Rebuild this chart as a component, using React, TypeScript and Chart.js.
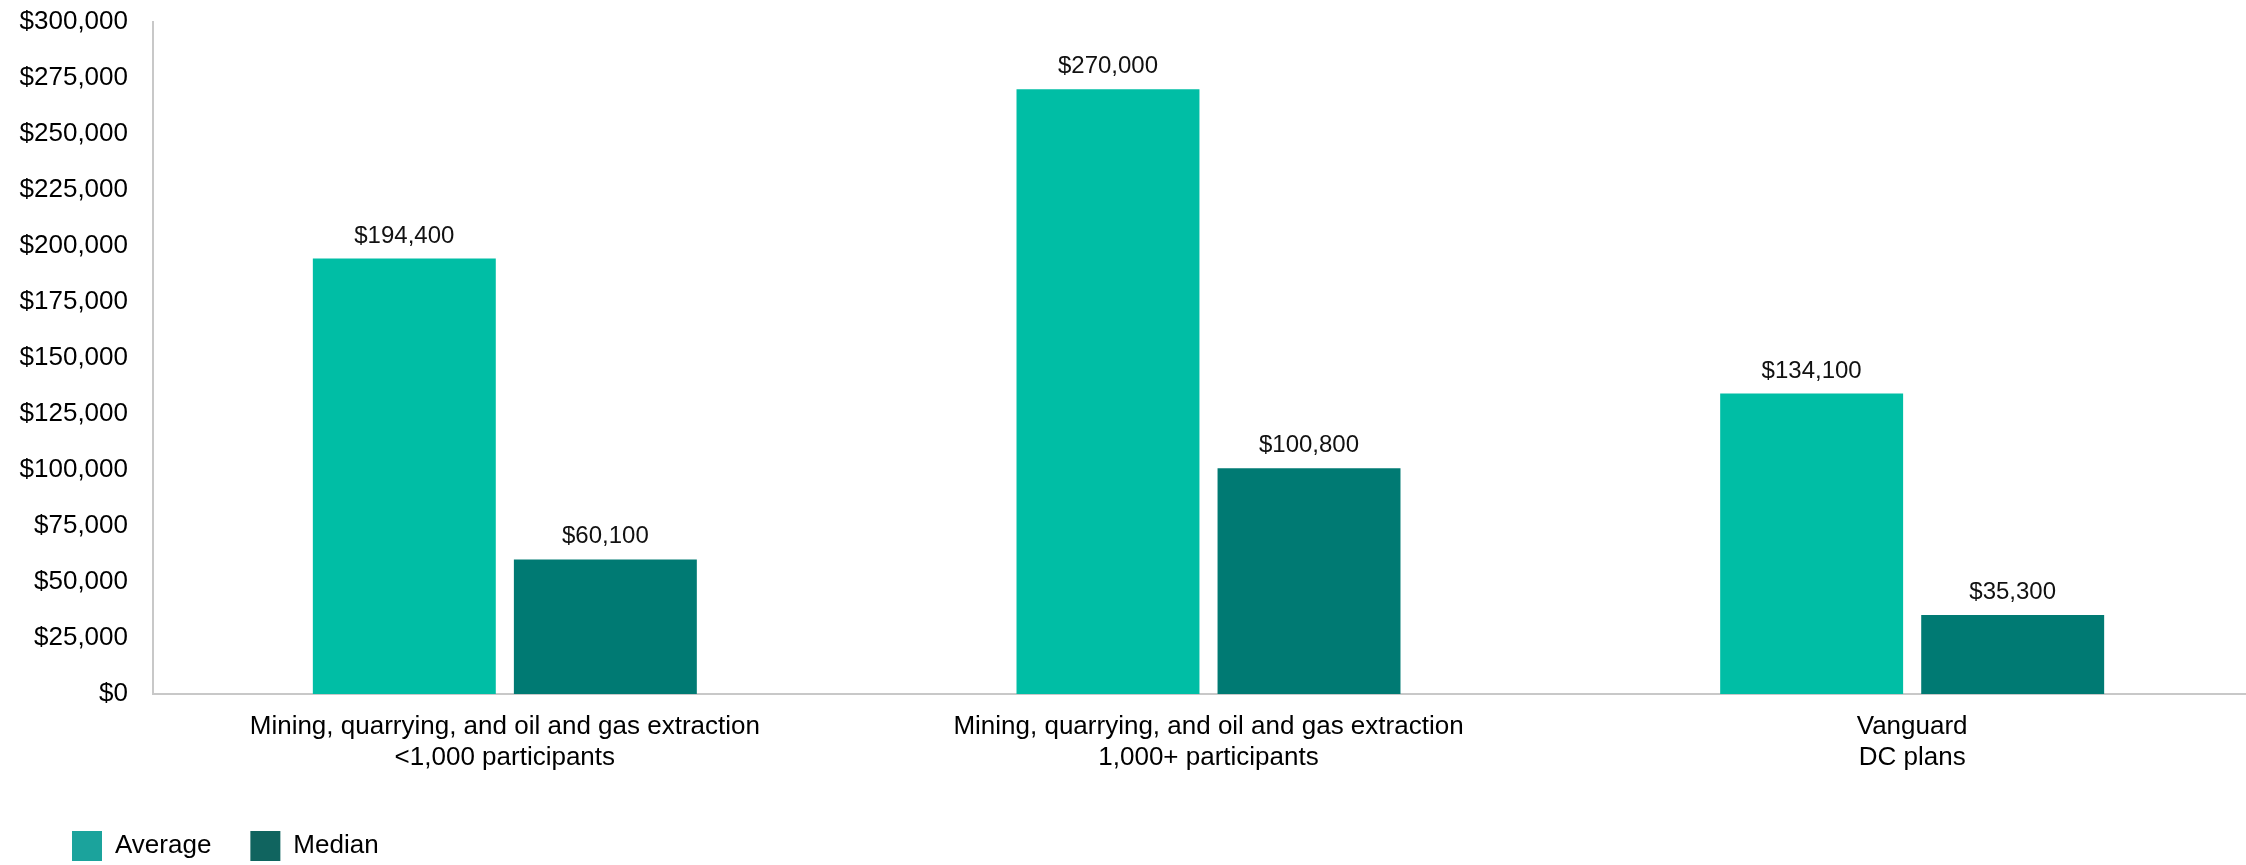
import React, { useEffect, useRef } from "react";
import { Chart, registerables } from "chart.js";

Chart.register(...registerables);

const categories: string[][] = [
  ["Mining, quarrying, and oil and gas extraction", "<1,000 participants"],
  ["Mining, quarrying, and oil and gas extraction", "1,000+ participants"],
  ["Vanguard", "DC plans"],
];
const averageValues: number[] = [194400, 270000, 134100];
const medianValues: number[] = [60100, 100800, 35300];
const seriesNames: string[] = ["Average", "Median"];

const FONT = "'Liberation Sans', Arial, Helvetica, sans-serif";
const fmt = (v: number) => "$" + v.toLocaleString("en-US");

const barColors = ["#00BEA5", "#007A73"];
const legendColors = ["#1BA39C", "#10645F"];

const dataLabelPlugin = {
  id: "dataLabels",
  afterDatasetsDraw(chart: any) {
    const ctx = chart.ctx;
    ctx.save();
    ctx.font = `24px ${FONT}`;
    ctx.fillStyle = "#111";
    ctx.textAlign = "center";
    ctx.textBaseline = "alphabetic";
    chart.data.datasets.forEach((ds: any, di: number) => {
      const meta = chart.getDatasetMeta(di);
      meta.data.forEach((bar: any, i: number) => {
        ctx.fillText(fmt(ds.data[i]), bar.x, bar.y - 16);
      });
    });
    ctx.restore();
  },
};

const legendShiftPlugin = {
  id: "legendShift",
  afterLayout(chart: any) {
    if (chart.legend) {
      chart.legend.left += 33;
      chart.legend.right += 33;
    }
  },
};

export default function App() {
  const ref = useRef<HTMLCanvasElement | null>(null);
  useEffect(() => {
    if (!ref.current) return;
    const chart = new Chart(ref.current, {
      type: "bar",
      data: {
        labels: categories,
        datasets: [
          {
            label: seriesNames[0],
            data: averageValues,
            backgroundColor: barColors[0],
            categoryPercentage: 0.5714,
            barPercentage: 0.91,
          },
          {
            label: seriesNames[1],
            data: medianValues,
            backgroundColor: barColors[1],
            categoryPercentage: 0.5714,
            barPercentage: 0.91,
          },
        ],
      },
      options: {
        responsive: false,
        animation: false,
        layout: { padding: { left: 0, top: 22, right: 0, bottom: 0 } },
        plugins: {
          tooltip: { enabled: false },
          legend: {
            position: "bottom",
            align: "start",
            labels: {
              boxWidth: 30,
              boxHeight: 30,
              padding: 39,
              color: "#000",
              font: { family: FONT, size: 26 },
              generateLabels: (c: any) =>
                c.data.datasets.map((ds: any, i: number) => ({
                  text: ds.label,
                  fillStyle: legendColors[i],
                  strokeStyle: legendColors[i],
                  lineWidth: 0,
                  hidden: false,
                  datasetIndex: i,
                  fontColor: "#000",
                })),
            },
          },
        },
        scales: {
          x: {
            grid: { display: false, drawTicks: false },
            border: { display: true, color: "#C8C8C8", width: 2 },
            ticks: {
              color: "#000",
              font: { family: FONT, size: 26 },
              padding: 17,
              maxRotation: 0,
              autoSkip: false,
            },
            afterFit: (s: any) => {
              s.height = 98;
            },
          },
          y: {
            min: 0,
            max: 300000,
            grid: { display: false, drawTicks: false },
            border: { display: true, color: "#C8C8C8", width: 2 },
            ticks: {
              stepSize: 25000,
              color: "#000",
              font: { family: FONT, size: 26 },
              padding: 25,
              callback: (v: any) => fmt(Number(v)),
            },
            afterFit: (s: any) => {
              s.width = 153;
              s.paddingTop = 0;
              s.paddingBottom = 0;
            },
          },
        },
      },
      plugins: [dataLabelPlugin, legendShiftPlugin],
    });
    return () => chart.destroy();
  }, []);

  return (
    <div
      style={{
        position: "absolute",
        left: 0,
        top: 0,
        width: 2246,
        height: 865,
        overflow: "hidden",
        background: "#fff",
      }}
    >
      <canvas ref={ref} width={2264} height={871} style={{ display: "block" }} />
    </div>
  );
}
